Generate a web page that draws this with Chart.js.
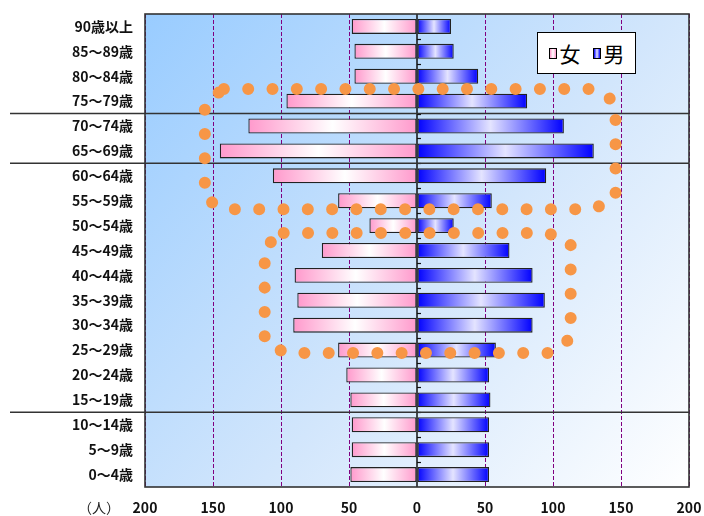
<!DOCTYPE html>
<html lang="ja">
<head>
<meta charset="utf-8">
<title>年齢別人口</title>
<script src="https://cdn.jsdelivr.net/npm/chart.js@4.4.1/dist/chart.umd.min.js"></script>
<style>
    html, body { margin: 0; padding: 0; background: #fff; }
    #wrap { position: relative; width: 704px; height: 516px; }
    #legendBox {
        position: absolute; left: 537px; top: 32px; width: 97px; height: 40px;
        background: #fff; border: 1px solid #000;
        display: flex; align-items: center; justify-content: center;
        font-family: "Noto Sans CJK JP", sans-serif; font-size: 21px; color: #000;
    }
    #legendBox .sw { display: inline-block; width: 6px; height: 9px; border: 1px solid #000; margin: 0 3px 0 0; }
    #legendBox .f { background: linear-gradient(90deg, #ff99cc, #fff, #ff99cc); }
    #legendBox .m { background: linear-gradient(90deg, #0000ff, #e4e4ff, #0000ff); margin-left: 12px; }
    #unit {
        position: absolute; left: 78px; top: 497px;
        font-family: "Noto Sans CJK JP", sans-serif; font-size: 14px; color: #222;
    }
</style>
</head>
<body>
<div id="wrap">
    <canvas id="pyramid" width="704" height="516"></canvas>
    <div id="legendBox"><span class="sw f"></span>女<span class="sw m"></span>男</div>
    <div id="unit">（人）</div>
</div>
<script>

// ==========================
// Data
// ==========================

const ageGroups = [
    "90歳以上", "85～89歳", "80～84歳", "75～79歳", "70～74歳",
    "65～69歳", "60～64歳", "55～59歳", "50～54歳", "45～49歳",
    "40～44歳", "35～39歳", "30～34歳", "25～29歳", "20～24歳",
    "15～19歳", "10～14歳", "5～9歳", "0～4歳"
];

const female = [48, 46, 46, 96, 124, 145, 106, 58, 35, 70, 90, 88, 91, 58, 52, 49, 48, 48, 49];

const male = [25, 27, 45, 81, 108, 130, 95, 55, 27, 68, 85, 94, 85, 58, 53, 54, 53, 53, 53];

// dotted outlines (x: persons, y: row index)
const outlineUpper = [
    [-142, 2.51], [132, 2.51], [146, 3.07], [146, 6.93],
    [129, 7.34], [-140, 7.34], [-156, 6.93], [-156, 3.05], [-142, 2.51]
];

const outlineLower = [
    [-98, 8.30], [96, 8.30], [113, 8.66], [113, 12.51],
    [100, 13.12], [-96, 13.12], [-112, 12.71], [-112, 8.84], [-98, 8.30]
];

// boundaries between age bands (row index)
const groupBreaks = [3.5, 5.5, 15.5];

const xMax = 200;
const xStep = 50;

// ==========================
// Helpers
// ==========================

function barGradient(colors) {
    return (c) => {
        const chart = c.chart;
        const xs = chart.scales.x;
        if (c.type !== "data" || !xs || !chart.chartArea) return colors[0];
        const p0 = xs.getPixelForValue(0);
        const p1 = xs.getPixelForValue(c.raw);
        const g = chart.ctx.createLinearGradient(p0, 0, p1, 0);
        g.addColorStop(0, colors[0]);
        g.addColorStop(0.5, colors[1]);
        g.addColorStop(1, colors[0]);
        return g;
    };
}

function dotLine(points) {
    return {
        type: "line",
        data: points.map(p => ({ x: p[0], y: p[1] })),
        xAxisID: "x",
        yAxisID: "yd",
        borderColor: "#f79646",
        borderWidth: 12,
        borderDash: [0.01, 24.3],
        borderCapStyle: "round",
        pointRadius: 0,
        tension: 0,
        fill: false,
        order: 0
    };
}

// ==========================
// Plugin: background, lines
// ==========================

const decor = {
    id: "decor",
    beforeDraw(chart) {
        const { ctx, chartArea: a } = chart;
        const g = ctx.createLinearGradient(a.left, a.top, a.right, a.bottom);
        g.addColorStop(0, "#99ccff");
        g.addColorStop(0.55, "#d2e6fc");
        g.addColorStop(1, "#ffffff");
        ctx.save();
        ctx.fillStyle = g;
        ctx.fillRect(a.left, a.top, a.right - a.left, a.bottom - a.top);
        ctx.restore();
    },
    beforeDatasetsDraw(chart) {
        const { ctx, chartArea: a } = chart;
        const x0 = chart.scales.x.getPixelForValue(0);
        const yd = chart.scales.yd;
        ctx.save();
        ctx.strokeStyle = "#111";
        ctx.lineWidth = 1.5;
        ctx.beginPath();
        ctx.moveTo(x0, a.top);
        ctx.lineTo(x0, a.bottom);
        ctx.stroke();
        ctx.lineWidth = 1.2;
        for (let i = 0; i < ageGroups.length - 1; i++) {
            const y = Math.round(yd.getPixelForValue(i + 0.5)) + 0.5;
            ctx.beginPath();
            ctx.moveTo(x0, y);
            ctx.lineTo(x0 + 4, y);
            ctx.stroke();
        }
        ctx.strokeStyle = "#333";
        ctx.lineWidth = 1.5;
        groupBreaks.forEach(b => {
            const y = yd.getPixelForValue(b);
            ctx.beginPath();
            ctx.moveTo(10, y);
            ctx.lineTo(a.right, y);
            ctx.stroke();
        });
        ctx.restore();
    },
    afterDraw(chart) {
        const { ctx, chartArea: a } = chart;
        ctx.save();
        ctx.strokeStyle = "#333";
        ctx.lineWidth = 1.6;
        ctx.strokeRect(a.left, a.top, a.right - a.left, a.bottom - a.top);
        ctx.restore();
    }
};

// ==========================
// Chart
// ==========================

new Chart(document.getElementById("pyramid"), {

    type: "bar",

    data: {

        labels: ageGroups,

        datasets: [

            {
                label: "女",
                data: female.map(v => -v),
                indexAxis: "y",
                xAxisID: "x",
                yAxisID: "y",
                backgroundColor: barGradient(["#ff99cc", "#ffffff"]),
                borderColor: "#222",
                borderWidth: 1.3,
                borderSkipped: false,
                grouped: false,
                categoryPercentage: 1,
                barPercentage: 0.6,
                order: 1
            },

            {
                label: "男",
                data: male,
                indexAxis: "y",
                xAxisID: "x",
                yAxisID: "y",
                backgroundColor: barGradient(["#0000ff", "#e4e4ff"]),
                borderColor: "#222",
                borderWidth: 1.3,
                borderSkipped: false,
                grouped: false,
                categoryPercentage: 1,
                barPercentage: 0.6,
                order: 1
            },

            dotLine(outlineUpper),

            dotLine(outlineLower)

        ]

    },

    options: {

        responsive: false,

        animation: false,

        layout: {
            padding: { top: 14, right: 15, left: 0, bottom: 0 }
        },

        plugins: {
            legend: { display: false },
            tooltip: { enabled: false }
        },

        scales: {

            x: {
                type: "linear",
                min: -xMax,
                max: xMax,
                offset: false,
                ticks: {
                    stepSize: xStep,
                    padding: 12,
                    color: "#111",
                    font: { family: "Noto Sans CJK JP", size: 14, weight: "bold" },
                    callback: v => Math.abs(v)
                },
                grid: {
                    offset: false,
                    color: c => (c.tick && c.tick.value === 0) ? "transparent" : "#800080",
                    lineWidth: 1,
                    drawTicks: false
                },
                border: { display: false, dash: [4, 2] },
                afterFit: s => { s.height = 29; s.paddingLeft = 0; s.paddingRight = 0; }
            },

            y: {
                type: "category",
                offset: true,
                ticks: {
                    padding: 12,
                    color: "#111",
                    font: { family: "Noto Sans CJK JP", size: 14, weight: "bold" }
                },
                grid: { display: false, drawTicks: false },
                border: { display: false },
                afterFit: s => { s.width = 145; s.paddingTop = 0; s.paddingBottom = 0; }
            },

            yd: {
                type: "linear",
                display: false,
                reverse: true,
                min: -0.5,
                max: ageGroups.length - 0.5
            }

        }

    },

    plugins: [decor]

});

</script>
</body>
</html>
